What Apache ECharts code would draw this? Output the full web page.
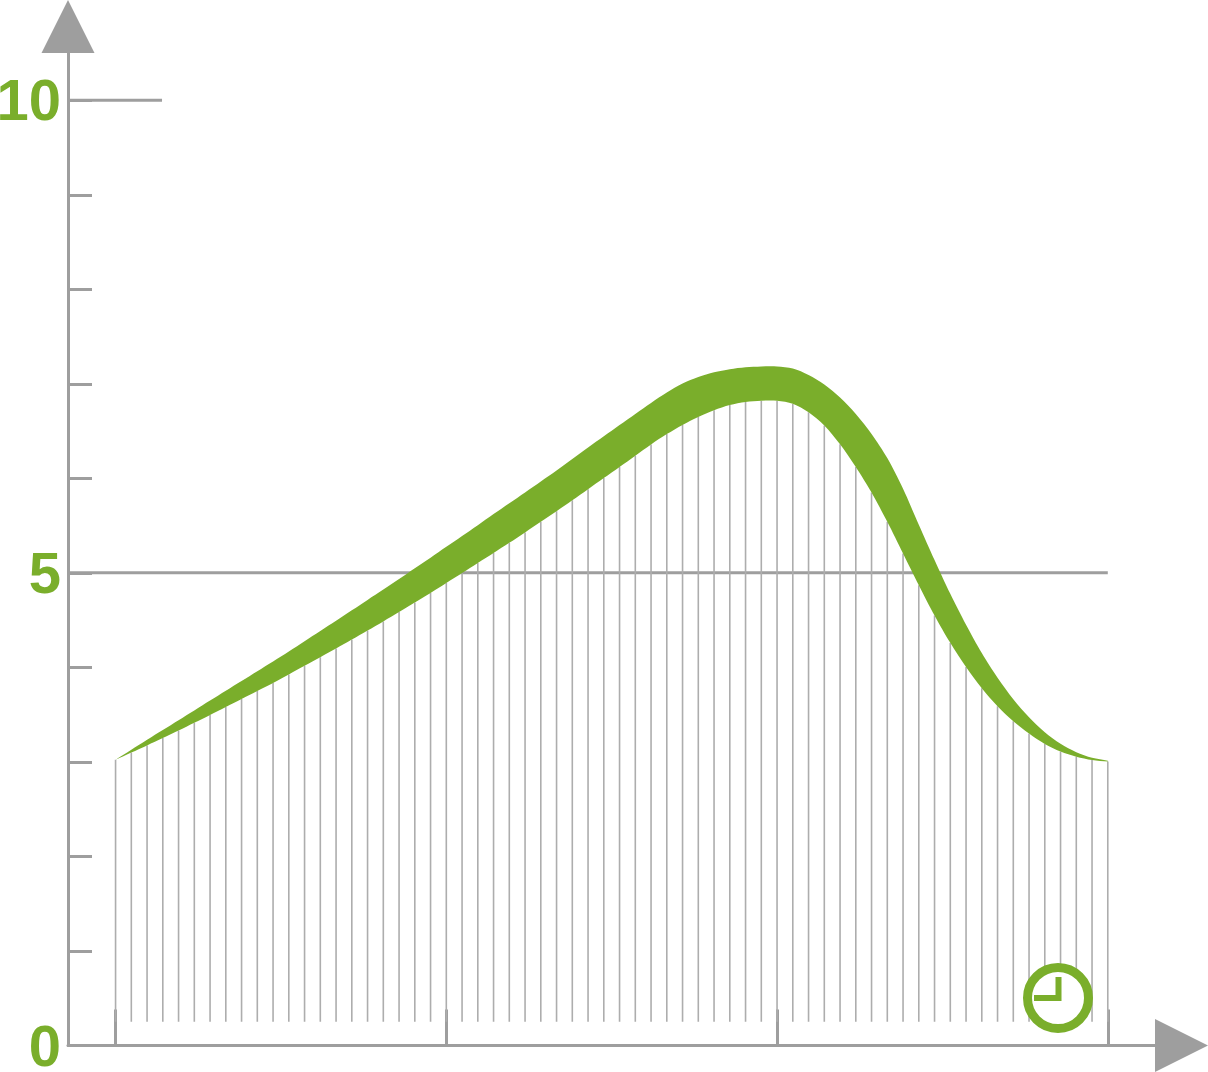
<!DOCTYPE html>
<html>
<head>
<meta charset="utf-8">
<title>Band over time</title>
<script src="https://cdn.jsdelivr.net/npm/echarts@6/dist/echarts.min.js"></script>
<style>html,body{margin:0;padding:0;background:#fff}#chart{width:1208px;height:1072px}</style>
</head>
<body>
<div id="chart"></div>
<script>
// Upper and lower edges of the band, one reading per vertical rule.
const lowerEdge = [3.023,3.100,3.175,3.252,3.332,3.414,3.497,3.580,3.665,3.750,3.835,3.925,4.017,4.108,4.200,4.294,4.390,4.486,4.585,4.686,4.788,4.892,4.998,5.105,5.210,5.318,5.428,5.540,5.653,5.768,5.885,6.003,6.120,6.240,6.358,6.468,6.565,6.648,6.720,6.775,6.808,6.822,6.822,6.790,6.700,6.560,6.360,6.120,5.850,5.540,5.205,4.870,4.550,4.260,4.005,3.780,3.590,3.430,3.300,3.190,3.110,3.055,3.020,3.005];
const upperEdge = [3.023,3.129,3.235,3.338,3.442,3.545,3.649,3.753,3.856,3.960,4.063,4.168,4.277,4.385,4.493,4.604,4.714,4.823,4.934,5.049,5.161,5.275,5.391,5.505,5.622,5.736,5.850,5.966,6.082,6.205,6.326,6.444,6.564,6.681,6.797,6.907,7.002,7.072,7.121,7.154,7.175,7.184,7.184,7.161,7.093,6.992,6.854,6.680,6.470,6.215,5.890,5.510,5.137,4.778,4.450,4.151,3.890,3.663,3.473,3.314,3.192,3.103,3.044,3.013];
const ruleFoot = 0.25;
const yTicks = [1,2,3,4,5,6,7,8,9,10];
const yLabels = [0,5,10];
const xTicks = [0,21,42,63];
// Longer horizontal rules: [end on the time axis, value]
const longRules = [[2.95,10],[63,5]];

const GREY = '#9e9e9e';
const RULE = '#adadad';
const GREEN = '#7aae2b';
const AXIS_MIN = -3.02;

const chart = echarts.init(document.getElementById('chart'), null, { renderer: 'canvas' });
chart.setOption({
  animation: false,
  grid: { left: 68, right: 26.5, top: 26.5, bottom: 26.5, outerBoundsMode: 'none' },
  xAxis: {
    type: 'value', min: AXIS_MIN, max: 67.68, splitLine: { show: false },
    axisLine: { onZero: false, symbol: ['none', 'triangle'], symbolSize: [53, 53], lineStyle: { color: GREY, width: 3 } },
    axisTick: { inside: true, length: 36, customValues: xTicks, lineStyle: { color: GREY, width: 3 } },
    axisLabel: { show: false }
  },
  yAxis: {
    type: 'value', min: 0, max: 10.78, splitLine: { show: false },
    axisLine: { onZero: false, symbol: ['none', 'triangle'], symbolSize: [53, 53], lineStyle: { color: GREY, width: 3 } },
    axisTick: { inside: true, length: 24, customValues: yTicks, lineStyle: { color: GREY, width: 3 } },
    axisLabel: { customValues: yLabels, margin: 7, verticalAlign: 'top', lineHeight: 8, color: GREEN, fontFamily: 'Liberation Sans', fontWeight: 'bold', fontSize: 58 }
  },
  series: [
    {
      // Long horizontal rules at 5 and 10, running from the value axis
      type: 'custom', z: 1, clip: false, silent: true, data: longRules,
      renderItem(params, api) {
        const a = api.coord([AXIS_MIN, api.value(1)]);
        const b = api.coord([api.value(0), api.value(1)]);
        return { type: 'line', shape: { x1: a[0], y1: a[1], x2: b[0], y2: b[1] }, style: { stroke: GREY, lineWidth: 3 } };
      }
    },
    {
      // Vertical rules from the foot line up to the lower edge of the band
      type: 'custom', z: 2, clip: false, silent: true, data: lowerEdge.map((v, i) => [i, v]),
      renderItem(params, api) {
        const a = api.coord([api.value(0), ruleFoot]);
        const b = api.coord([api.value(0), api.value(1)]);
        return { type: 'line', shape: { x1: a[0], y1: a[1], x2: b[0], y2: b[1] }, style: { stroke: RULE, lineWidth: 1.6 } };
      }
    },
    {
      // The band itself: one polygon along the upper edge and back along the lower
      type: 'custom', z: 3, clip: false, silent: true, data: [0],
      renderItem(params, api) {
        const top = upperEdge.map((v, i) => api.coord([i, v]));
        const bottom = lowerEdge.map((v, i) => api.coord([i, v])).reverse();
        return { type: 'polygon', shape: { points: top.concat(bottom), smooth: 0.3 }, style: { fill: GREEN } };
      }
    }
  ],
  // Clock pictogram in the lower right corner
  graphic: [
    { type: 'circle', z: 100, shape: { cx: 1058, cy: 998, r: 30.5 }, style: { fill: '#fff', stroke: GREEN, lineWidth: 9 } },
    { type: 'polyline', z: 101, shape: { points: [[1034, 998], [1058.5, 998], [1058.5, 977]] }, style: { fill: 'none', stroke: GREEN, lineWidth: 6, lineJoin: 'miter' } }
  ]
});
</script>
</body>
</html>
